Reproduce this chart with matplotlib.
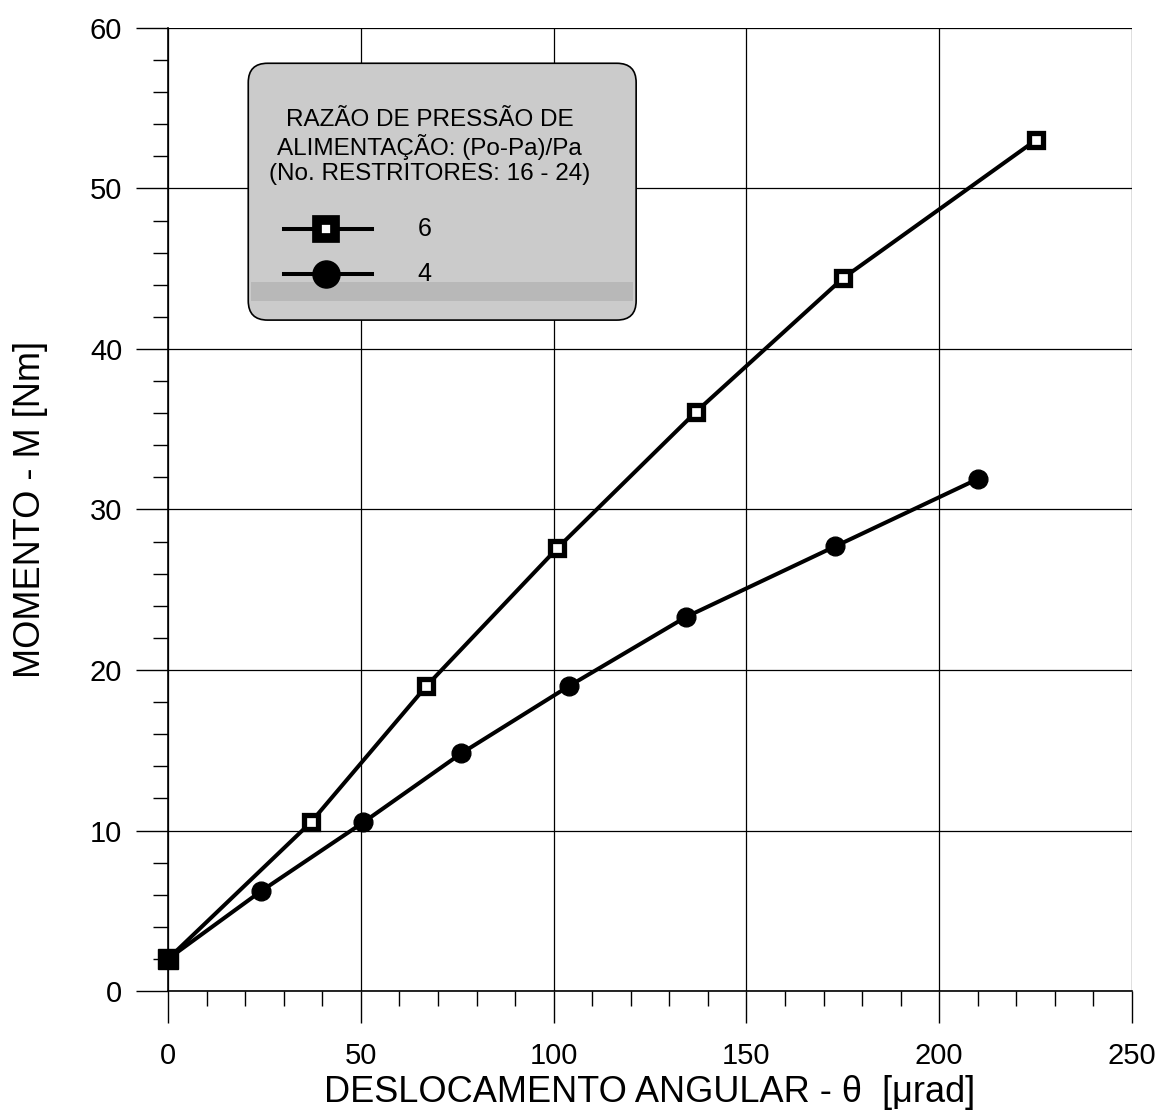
import matplotlib.pyplot as plt
from matplotlib.patches import FancyBboxPatch
from matplotlib.lines import Line2D

plt.rcParams['font.family'] = ['Liberation Sans', 'DejaVu Sans']

# Pressure ratio 6
theta_6 = [0, 37, 67, 101, 137, 175, 225]
moment_6 = [2.0, 10.5, 19.0, 27.6, 36.1, 44.4, 53.0]

# Pressure ratio 4
theta_4 = [0, 24, 50.6, 76, 104, 134.3, 173, 210]
moment_4 = [2.0, 6.2, 10.5, 14.8, 19.0, 23.3, 27.7, 31.9]

legend_title = "RAZÃO DE PRESSÃO DE\nALIMENTAÇÃO: (Po-Pa)/Pa\n(No. RESTRITORES: 16 - 24)"
labels = ["6", "4"]

fig = plt.figure(figsize=(11.59, 11.14), dpi=100)
ax = fig.add_axes([0.145, 0.1104, 0.8317, 0.8645])

ax.plot(theta_4, moment_4, color='k', lw=2.9, marker='o', ms=13.5,
        mfc='k', mec='k', zorder=3, clip_on=False)
ax.plot(theta_6, moment_6, color='k', lw=2.9, marker='s', ms=10.5,
        mfc='white', mec='k', mew=3.8, zorder=4, clip_on=False)
# starting point is drawn solid
ax.plot(theta_6[:1], moment_6[:1], ls='none', marker='s', ms=14,
        mfc='k', mec='k', zorder=5, clip_on=False)

ax.set_xlim(0, 250)
ax.set_ylim(0, 60)
ax.set_xticks(range(0, 251, 50))
ax.set_yticks(range(0, 61, 10))
ax.set_xticks(range(0, 251, 10), minor=True)
ax.set_yticks(range(0, 61, 2), minor=True)
ax.grid(True, which='major', color='k', lw=0.9)

for s in ['top', 'right']:
    ax.spines[s].set_visible(False)
for s in ['left', 'bottom']:
    ax.spines[s].set_linewidth(1.2)

ax.tick_params(which='major', direction='out', length=23, width=1.0,
               labelsize=21)
ax.tick_params(axis='x', which='major', pad=14)
ax.tick_params(axis='y', which='major', pad=10)
ax.tick_params(which='minor', direction='out', length=11, width=1.0)

ax.set_xlabel("DESLOCAMENTO ANGULAR - θ  [μrad]", fontsize=26, labelpad=3)
ax.set_ylabel("MOMENTO - M [Nm]", fontsize=26, labelpad=30)

# legend panel
box = FancyBboxPatch((20.8, 41.8), 100.6, 16.0,
                     boxstyle="round,pad=0,rounding_size=5",
                     mutation_aspect=60 / 250 * 964 / 963,
                     fc='#cbcbcb', ec='k', lw=1.2, zorder=6)
ax.add_patch(box)
ax.add_patch(FancyBboxPatch((21.5, 43.0), 99.2, 1.2,
                            boxstyle="square,pad=0", fc='#b8b8b8',
                            ec='none', zorder=6))
ax.text(67.8, 52.6, legend_title, ha='center', va='center', fontsize=17.5,
        linespacing=1.15, zorder=7)

ax.add_line(Line2D([30, 53], [47.5, 47.5], color='k', lw=2.9, zorder=7))
ax.plot([41], [47.5], marker='s', ms=12.5, mfc='white', mec='k', mew=7,
        zorder=8)
ax.add_line(Line2D([30, 53], [44.7, 44.7], color='k', lw=2.9, zorder=7))
ax.plot([41], [44.7], marker='o', ms=19.5, mfc='k', mec='k', zorder=8)
ax.text(66.5, 47.5, labels[0], ha='center', va='center', fontsize=18, zorder=8)
ax.text(66.5, 44.7, labels[1], ha='center', va='center', fontsize=18, zorder=8)

fig.savefig("out.png", dpi=100)
